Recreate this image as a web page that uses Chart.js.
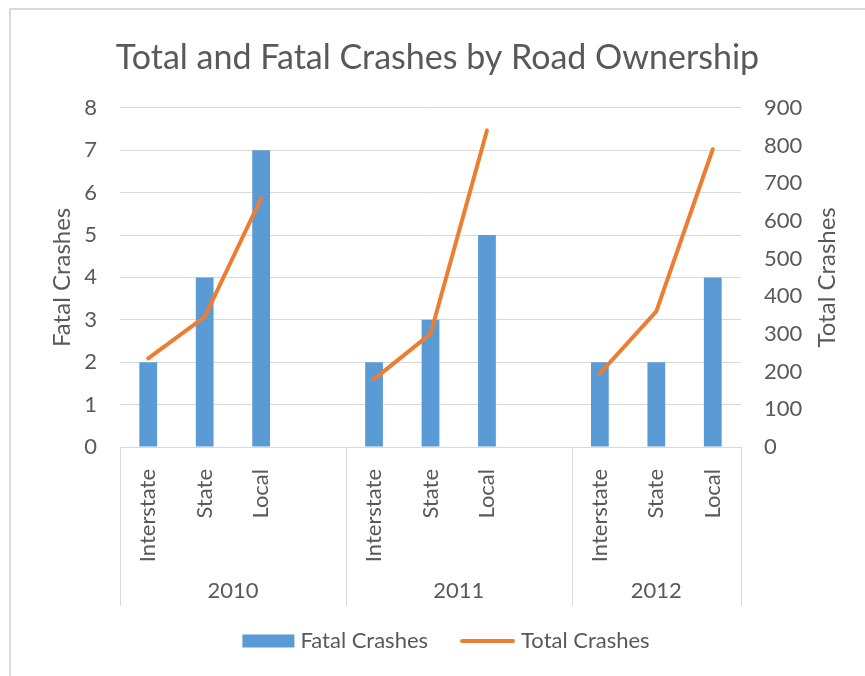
<!DOCTYPE html>
<html>
<head>
<meta charset="utf-8">
<title>Total and Fatal Crashes by Road Ownership</title>
<script src="https://cdn.jsdelivr.net/npm/chart.js@4.4.1/dist/chart.umd.min.js"></script>
<style>
  html, body { margin: 0; padding: 0; background: #fff; }
  #wrap { position: relative; width: 865px; height: 676px; }
</style>
</head>
<body>
<div id="wrap"><canvas id="crashChart" width="865" height="676"></canvas></div>
<script>
// ---- data ----
const years = ['2010', '2011', '2012'];
const roadTypes = ['Interstate', 'State', 'Local'];

const fatal2010 = [2, 4, 7];
const fatal2011 = [2, 3, 5];
const fatal2012 = [2, 2, 4];

const total2010 = [235, 345, 660];
const total2011 = [180, 300, 840];
const total2012 = [195, 360, 790];

const fatalTicks = [0, 1, 2, 3, 4, 5, 6, 7, 8];
const totalTicks = [0, 100, 200, 300, 400, 500, 600, 700, 800, 900];

// ---- build the flat category list (Excel leaves a blank slot between years) ----
const fatalByYear = [fatal2010, fatal2011, fatal2012];
const totalByYear = [total2010, total2011, total2012];

const labels = [];
const fatalData = [];
const totalData = [];
const groupStart = [];

years.forEach((yr, i) => {
    groupStart.push(labels.length);
    roadTypes.forEach((rt, j) => {
        labels.push(rt);
        fatalData.push(fatalByYear[i][j]);
        totalData.push(totalByYear[i][j]);
    });
    if (i < years.length - 1) {
        labels.push('');
        fatalData.push(null);
        totalData.push(null);
    }
});

const TEXT = '#595959';
const GRID = '#d9d9d9';
const BLUE = '#5b9bd5';
const ORANGE = '#ed7d31';
const FONT = 'Lato, "Open Sans", sans-serif';

// extra drawing: chart frame, year row of the axis, right title, legend
const decorPlugin = {
    id: 'decor',
    beforeDraw(chart) {
        const ctx = chart.ctx;
        ctx.save();
        ctx.fillStyle = '#fff';
        ctx.fillRect(0, 0, chart.width, chart.height);
        ctx.strokeStyle = GRID;
        ctx.lineWidth = 2;
        ctx.beginPath();
        ctx.moveTo(10, chart.height);
        ctx.lineTo(10, 9);
        ctx.lineTo(chart.width, 9);
        ctx.stroke();
        ctx.restore();
    },
    afterDraw(chart) {
        const ctx = chart.ctx;
        const x = chart.scales.x;
        const half = (x.getPixelForValue(1) - x.getPixelForValue(0)) / 2;

        // group edges
        const edges = groupStart.map(s => x.getPixelForValue(s) - half);
        edges.push(x.right);

        ctx.save();
        ctx.strokeStyle = GRID;
        ctx.lineWidth = 1;
        ctx.beginPath();
        edges.forEach(e => {
            const px = Math.round(e) + 0.5;
            ctx.moveTo(px, x.top);
            ctx.lineTo(px, x.top + 159);
        });
        ctx.stroke();

        ctx.fillStyle = TEXT;
        ctx.font = '22px ' + FONT;
        ctx.textAlign = 'center';
        ctx.textBaseline = 'middle';
        years.forEach((yr, i) => {
            ctx.fillText(yr, (edges[i] + edges[i + 1]) / 2, x.top + 144);
        });

        // right axis title, reading bottom to top like the left one
        const y1 = chart.scales.y1;
        ctx.save();
        ctx.translate(827, (y1.top + y1.bottom) / 2);
        ctx.rotate(-Math.PI / 2);
        ctx.font = '24px ' + FONT;
        ctx.fillText('Total Crashes', 0, 0);
        ctx.restore();

        // legend
        const ds = chart.data.datasets;
        ctx.font = '22px ' + FONT;
        ctx.textAlign = 'left';
        const w1 = ctx.measureText(ds[0].label).width;
        const w2 = ctx.measureText(ds[1].label).width;
        const total = 52 + 6 + w1 + 32 + 55 + 6 + w2;
        let lx = 446 - total / 2;
        const ly = 641;
        ctx.fillStyle = ds[0].backgroundColor;
        ctx.fillRect(lx, ly - 6.5, 52, 13);
        lx += 58;
        ctx.fillStyle = TEXT;
        ctx.fillText(ds[0].label, lx, ly);
        lx += w1 + 32;
        ctx.strokeStyle = ds[1].borderColor;
        ctx.lineWidth = 4;
        ctx.lineCap = 'round';
        ctx.beginPath();
        ctx.moveTo(lx + 2, ly);
        ctx.lineTo(lx + 53, ly);
        ctx.stroke();
        lx += 61;
        ctx.fillText(ds[1].label, lx, ly);
        ctx.restore();
    }
};

const ctxCrash = document.getElementById('crashChart').getContext('2d');
window.crashChart = new Chart(ctxCrash, {
    data: {
        labels: labels,
        datasets: [{
            type: 'bar',
            label: 'Fatal Crashes',
            data: fatalData,
            backgroundColor: BLUE,
            borderWidth: 0,
            barPercentage: 0.315,
            categoryPercentage: 1,
            yAxisID: 'y',
            order: 2
        }, {
            type: 'line',
            label: 'Total Crashes',
            data: totalData,
            borderColor: ORANGE,
            backgroundColor: ORANGE,
            borderWidth: 4,
            borderCapStyle: 'round',
            borderJoinStyle: 'round',
            pointRadius: 0,
            tension: 0,
            spanGaps: false,
            yAxisID: 'y1',
            order: 1
        }]
    },
    options: {
        responsive: false,
        animation: false,
        layout: { padding: { left: 10, right: 0, top: 0, bottom: 69 } },
        plugins: {
            legend: { display: false },
            tooltip: { enabled: false },
            title: {
                display: true,
                text: 'Total and Fatal Crashes by Road Ownership',
                color: TEXT,
                font: { family: FONT, size: 34, weight: 'normal' },
                padding: { top: 38, bottom: 29 }
            }
        },
        scales: {
            x: {
                offset: true,
                grid: { display: false },
                border: { display: false },
                ticks: {
                    color: TEXT,
                    font: { family: FONT, size: 22 },
                    autoSkip: false,
                    minRotation: 90,
                    maxRotation: 90,
                    padding: 14
                },
                afterFit: s => { s.height = 160; }
            },
            y: {
                position: 'left',
                min: 0,
                max: 8,
                afterBuildTicks: s => { s.ticks = fatalTicks.map(v => ({ value: v })); },
                grid: { color: GRID, drawTicks: false },
                border: { display: false },
                ticks: { color: TEXT, font: { family: FONT, size: 22 }, padding: 23 },
                title: {
                    display: true,
                    text: 'Fatal Crashes',
                    color: TEXT,
                    font: { family: FONT, size: 24 },
                    padding: { top: 38 }
                },
                afterFit: s => { s.width = 110; }
            },
            y1: {
                position: 'right',
                min: 0,
                max: 900,
                afterBuildTicks: s => { s.ticks = totalTicks.map(v => ({ value: v })); },
                grid: { drawOnChartArea: false, drawTicks: false },
                border: { display: false },
                ticks: { color: TEXT, font: { family: FONT, size: 22 }, padding: 23 },
                afterFit: s => { s.width = 124; }
            }
        }
    },
    plugins: [decorPlugin]
});
</script>
</body>
</html>
